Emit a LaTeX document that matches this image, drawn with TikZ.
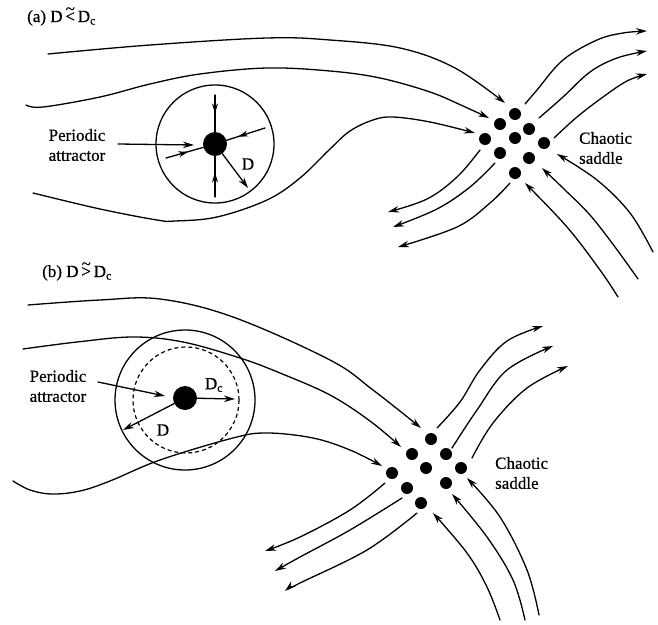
\documentclass[tikz,border=0pt]{standalone}
\usepackage{fontspec}
\setmainfont{Liberation Serif}[FakeBold=0.6]
\usetikzlibrary{arrows.meta,decorations.markings}
\newcommand\tildeover[1]{\ooalign{#1\cr\hidewidth\raisebox{0.45em}{\textasciitilde}\hidewidth\cr}}
\tikzset{
 flow/.style={line width=1.3pt, line cap=round},
 tip/.style={-{Stealth[length=11pt,width=6.5pt]}},
 lbl/.style={font=\fontsize{17}{20}\selectfont, inner sep=0pt},
 midarrow/.style={postaction={decorate},decoration={markings,mark=at position #1 with {\arrow{Stealth[length=10pt,width=6pt]}}}},
 sdot/.style={circle, fill=black, inner sep=0pt, minimum size=12pt},
 bigdot/.style={circle, fill=black, inner sep=0pt, minimum size=24pt},
}
\begin{document}
\begin{tikzpicture}[x=1pt,y=-1pt]
\useasboundingbox (0,0) rectangle (658,624);
% ===================== panel (a) =====================
\node[lbl,anchor=base west] (ta) at (27,22) {(a) D\,\tildeover{<}\,D\textsubscript{c}};
% saddle dots
\foreach \n/\x/\y in {a1/515/114,a2/500/124,a3/529/129,a4/485/139,a5/515/138,a6/544/143,a7/500/153,a8/529/158,a9/515/173}
  \node[sdot] (\n) at (\x,\y) {};
\node[lbl,align=left,anchor=west] (csa) at (579,148) {Chaotic\\saddle};
% attractor
\draw[line width=1.3pt] (215,144) circle[radius=59];
\node[bigdot] (pA) at (215,144) {};
\draw[flow,midarrow=0.5] (215,95) -- (pA);
\draw[flow,midarrow=0.6] (215,197) -- (pA);
\draw[flow,midarrow=0.6] (166,158) -- (pA);
\draw[flow,midarrow=0.7] (265,128) -- (pA);
\coordinate (dA) at (248,188);
\draw[flow,tip] (pA) -- (dA);
\node[lbl] (DA) at (248,164) {D};
\node[lbl,align=center] (paA) at (77,145) {Periodic\\attractor};
\coordinate (paAt) at (194,145);
\draw[flow,tip] (118,144) -- (paAt);
% incoming from left
\draw[flow,tip] plot[smooth,tension=0.6] coordinates {(48,54) (150,45) (267,38) (330,40) (400,48) (455,68) (505,103)};
\draw[flow,tip] plot[smooth,tension=0.6] coordinates {(26,105) (43,107) (100,97) (150,84) (200,74) (267,68) (330,71) (380,78) (430,92) (463,106) (489,118)};
\draw[flow,tip] plot[smooth,tension=0.6] coordinates {(33,193) (100,209) (157,220) (175,221) (217,217) (267,200) (300,178) (330,149) (350,131) (373,120) (393,117) (430,122) (475,133)};
% outgoing up-right
\draw[flow,tip] plot[smooth,tension=0.6] coordinates {(525,104) (537,90) (563,60) (597,40) (623,33) (647,31)};
\draw[flow,tip] plot[smooth,tension=0.6] coordinates {(539,118) (563,97) (590,72) (617,58) (647,51)};
\draw[flow,tip] plot[smooth,tension=0.6] coordinates {(554,138) (577,117) (603,97) (627,81) (647,74)};
% outgoing down-left
\draw[flow,tip] plot[smooth,tension=0.6] coordinates {(480,150) (457,177) (427,199) (388,212)};
\draw[flow,tip] plot[smooth,tension=0.6] coordinates {(495,163) (470,187) (437,209) (393,227)};
\draw[flow,tip] plot[smooth,tension=0.6] coordinates {(510,183) (490,203) (457,227) (398,247)};
% incoming from lower right
\draw[flow,tip] plot[smooth,tension=0.6] coordinates {(618,297) (600,270) (567,227) (525,183)};
\draw[flow,tip] plot[smooth,tension=0.6] coordinates {(638,279) (615,247) (590,215) (565,190) (542,168)};
\draw[flow,tip] plot[smooth,tension=0.6] coordinates {(653,252) (630,213) (597,180) (557,154)};
% ===================== panel (b) =====================
\node[lbl,anchor=base west] (tb) at (42,277) {(b) D\,\tildeover{>}\,D\textsubscript{c}};
\foreach \n/\x/\y in {b1/431/439,b2/412/454,b3/446/454,b4/392/473,b5/426/468,b6/461/468,b7/407/488,b8/446/483,b9/421/503}
  \node[sdot] (\n) at (\x,\y) {};
\node[lbl,align=left,anchor=west] (csb) at (495,473) {Chaotic\\saddle};
\draw[line width=1.3pt] (185,400) circle[radius=70];
\draw[line width=1.2pt,dash pattern=on 4pt off 3pt] (186,400) circle[radius=53];
\node[bigdot] (pB) at (185,398) {};
\coordinate (dcB) at (235,399);
\draw[flow,tip] (pB) -- (dcB);
\node[lbl] (DcB) at (214,385) {D\textsubscript{c}};
\coordinate (dB) at (123,430);
\draw[flow,tip] (pB) -- (dB);
\node[lbl] (DB) at (163,430) {D};
\node[lbl,align=center] (paB) at (58,386) {Periodic\\attractor};
\coordinate (paBt) at (165,396);
\draw[flow,tip] (98,382) -- (paBt);
% incoming from left
\draw[flow,tip] plot[smooth,tension=0.6] coordinates {(28,305) (100,300) (160,299) (233,317) (330,360) (373,390) (421,428)};
\draw[flow,tip] plot[smooth,tension=0.6] coordinates {(23,349) (77,342) (133,337) (183,342) (240,358) (280,373) (330,395) (370,421) (401,447)};
\draw[flow,tip] plot[smooth,tension=0.6] coordinates {(13,481) (30,490) (52,494) (80,491) (110,481) (160,460) (233,438) (267,433) (313,438) (350,450) (382,466)};
% outgoing up-right
\draw[flow,tip] plot[smooth,tension=0.6] coordinates {(437,428) (460,402) (480,370) (507,341) (543,326)};
\draw[flow,tip] plot[smooth,tension=0.6] coordinates {(452,448) (477,410) (507,370) (553,346)};
\draw[flow,tip] plot[smooth,tension=0.6] coordinates {(472,458) (493,423) (527,388) (568,366)};
% outgoing down-left
\draw[flow,tip] plot[smooth,tension=0.6] coordinates {(385,483) (350,510) (300,537) (265,551)};
\draw[flow,tip] plot[smooth,tension=0.6] coordinates {(402,498) (350,530) (300,557) (275,571)};
\draw[flow,tip] plot[smooth,tension=0.6] coordinates {(417,513) (367,550) (300,583) (285,591)};
% incoming from below
\draw[flow,tip] plot[smooth,tension=0.6] coordinates {(500,620) (487,587) (467,553) (433,513)};
\draw[flow,tip] plot[smooth,tension=0.6] coordinates {(525,620) (513,580) (487,537) (452,494)};
\draw[flow,tip] plot[smooth,tension=0.6] coordinates {(539,615) (527,570) (500,517) (467,478)};
\end{tikzpicture}
\end{document}
